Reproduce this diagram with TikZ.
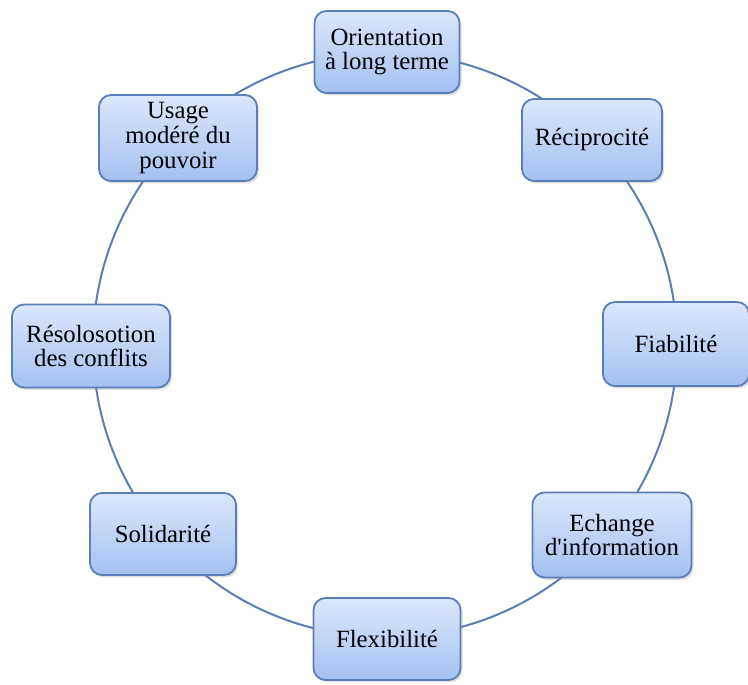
\documentclass[tikz,border=0pt]{standalone}
\usepackage{fontspec}
\setmainfont{Liberation Serif}[Ligatures=TeXOff]
\usetikzlibrary{shadows}
\definecolor{ringblue}{HTML}{5A7EB5}
\definecolor{boxedge}{HTML}{5A7FB8}
\definecolor{boxtop}{HTML}{DCE7FB}
\definecolor{boxbottom}{HTML}{A5C0F1}
\begin{document}
\begin{tikzpicture}[x=1pt,y=1pt,
  valuebox/.style={draw=boxedge, line width=0.9pt, rounded corners=6pt,
    top color=boxtop, bottom color=boxbottom, align=center,
    font=\fontsize{12.4}{12.4}\selectfont, inner sep=2pt,
    minimum height=41pt,
    drop shadow={opacity=0.25, shadow xshift=1pt, shadow yshift=-1.2pt}},
  ring/.style={draw=ringblue, line width=1pt}]
\useasboundingbox (0,0) rectangle (374,342);
% the ring that links the eight values
\coordinate (centre) at (192.5,169.5);
\draw[ring] (centre) circle[radius=146];
% the eight values around the ring
\node[valuebox, minimum width=72.5pt] (orient) at (193.5,316) {Orientation\\à long terme};
\node[valuebox, minimum width=70pt] (recip) at (296,272) {Réciprocité};
\node[valuebox, minimum width=73pt, minimum height=42pt] (fiab) at (338,170) {Fiabilité};
\node[valuebox, minimum width=79.5pt, minimum height=42.5pt] (echange) at (306,74.5) {Echange\\d'information};
\node[valuebox, minimum width=73.5pt] (flex) at (193.5,22.5) {Flexibilité};
\node[valuebox, minimum width=73pt] (solid) at (81.5,75) {Solidarité};
\node[valuebox, minimum width=79pt, minimum height=41.5pt] (resol) at (45.5,169) {Résolosotion\\des conflits};
\node[valuebox, minimum width=79pt, minimum height=43pt] (usage) at (89,273) {Usage\\modéré du\\pouvoir};
\end{tikzpicture}
\end{document}
